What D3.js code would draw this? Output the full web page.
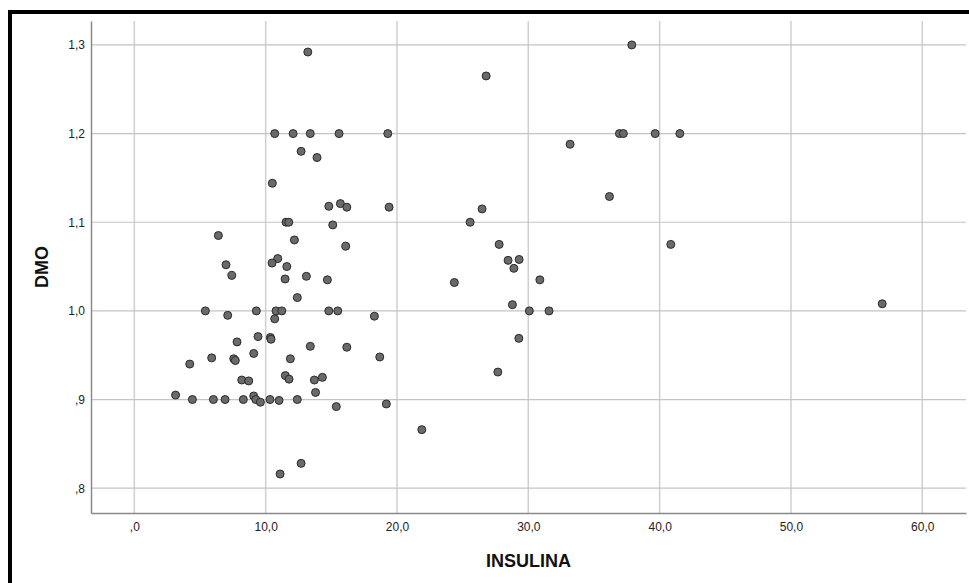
<!DOCTYPE html>
<html>
<head>
<meta charset="utf-8">
<script src="https://cdn.jsdelivr.net/npm/d3@7"></script>
<style>
  body { margin: 0; background: #fff; }
  svg { display: block; font-family: "Liberation Sans", Arial, sans-serif; }
  .tick-label { font-size: 12px; fill: #222; }
  .axis-title { font-size: 18px; font-weight: bold; fill: #111; }
</style>
</head>
<body>
<div id="chart"></div>
<script>
// INSULINA values (x)
var insulina = [
    13.21, 10.69, 12.09, 13.40, 12.70, 13.91, 10.51, 15.59, 19.30, 26.79,
    37.88, 33.18, 36.94, 37.24, 39.66, 41.54, 36.18, 26.48, 25.57, 40.85,
    27.78, 28.46, 29.30, 28.90, 24.37, 30.88, 28.79, 30.08, 31.58, 29.28,
    27.68, 21.89, 56.95, 14.81, 15.69, 16.18, 19.40, 11.55, 11.76, 15.11,
    6.40, 12.19, 16.10, 10.92, 10.49, 11.61, 6.98, 7.42, 11.48, 13.10,
    14.70, 12.41, 5.41, 7.11, 9.29, 10.79, 11.23, 10.69, 14.81, 15.49,
    18.28, 9.42, 10.36, 10.41, 7.82, 13.40, 16.18, 5.89, 7.57, 7.69,
    9.09, 11.88, 18.69, 4.22, 8.18, 8.71, 11.50, 11.78, 13.71, 14.32,
    13.80, 3.14, 4.42, 6.02, 6.91, 8.30, 9.09, 9.25, 9.60, 10.33,
    11.02, 12.41, 15.38, 19.19, 11.10, 12.70
];
// DMO values (y)
var dmo = [
    1.292, 1.200, 1.200, 1.200, 1.180, 1.173, 1.144, 1.200, 1.200, 1.265,
    1.300, 1.188, 1.200, 1.200, 1.200, 1.200, 1.129, 1.115, 1.100, 1.075,
    1.075, 1.057, 1.058, 1.048, 1.032, 1.035, 1.007, 1.000, 1.000, 0.969,
    0.931, 0.866, 1.008, 1.118, 1.121, 1.117, 1.117, 1.100, 1.100, 1.097,
    1.085, 1.080, 1.073, 1.059, 1.054, 1.050, 1.052, 1.040, 1.036, 1.039,
    1.035, 1.015, 1.000, 0.995, 1.000, 1.000, 1.000, 0.991, 1.000, 1.000,
    0.994, 0.971, 0.970, 0.968, 0.965, 0.960, 0.959, 0.947, 0.946, 0.944,
    0.952, 0.946, 0.948, 0.940, 0.922, 0.921, 0.927, 0.923, 0.922, 0.925,
    0.908, 0.905, 0.900, 0.900, 0.900, 0.900, 0.904, 0.900, 0.897, 0.900,
    0.899, 0.900, 0.892, 0.895, 0.816, 0.828
];
var xTicks = [0, 10, 20, 30, 40, 50, 60];
var xTickLabels = [",0", "10,0", "20,0", "30,0", "40,0", "50,0", "60,0"];
var yTicks = [0.8, 0.9, 1.0, 1.1, 1.2, 1.3];
var yTickLabels = [",8", ",9", "1,0", "1,1", "1,2", "1,3"];

var svgWidth = 969;
var svgHeight = 583;

var margin = { top: 21, right: 3, bottom: 70, left: 91 };
var chartWidth = svgWidth - margin.left - margin.right;
var chartHeight = svgHeight - margin.top - margin.bottom;

var svg = d3.select("#chart").append("svg")
    .attr("width", svgWidth)
    .attr("height", svgHeight);

// outer frame (top and left only are visible)
svg.append("path")
    .attr("d", `M10,${svgHeight} L10,12 L${svgWidth},12`)
    .attr("fill", "none")
    .attr("stroke", "#000")
    .attr("stroke-width", 4);

var chartGroup = svg.append("g")
    .attr("transform", `translate(${margin.left}, ${margin.top})`);

var xScale = d3.scaleLinear()
    .domain([-3.3, 63.33])
    .range([0, chartWidth]);

var yScale = d3.scaleLinear()
    .domain([0.772, 1.327])
    .range([chartHeight, 0]);

// grid lines
chartGroup.append("g").selectAll("line")
    .data(xTicks)
    .enter()
    .append("line")
    .attr("x1", d => xScale(d))
    .attr("x2", d => xScale(d))
    .attr("y1", 0)
    .attr("y2", chartHeight)
    .attr("stroke", "#cfcfcf")
    .attr("stroke-width", 1.5);

chartGroup.append("g").selectAll("line")
    .data(yTicks)
    .enter()
    .append("line")
    .attr("x1", 0)
    .attr("x2", chartWidth)
    .attr("y1", d => yScale(d))
    .attr("y2", d => yScale(d))
    .attr("stroke", "#c4c4c4")
    .attr("stroke-width", 1.2);

// axes lines
var xAxis = d3.axisBottom(xScale)
    .tickValues(xTicks)
    .tickSize(0)
    .tickPadding(9)
    .tickFormat((d, i) => xTickLabels[i]);

var yAxis = d3.axisLeft(yScale)
    .tickValues(yTicks)
    .tickSize(0)
    .tickPadding(6)
    .tickFormat((d, i) => yTickLabels[i]);

var gx = chartGroup.append("g")
    .attr("transform", `translate(0, ${chartHeight})`)
    .call(xAxis);
var gy = chartGroup.append("g").call(yAxis);

[gx, gy].forEach(function(g) {
    g.select(".domain").attr("stroke", "#8a8a8a").attr("stroke-width", 1.5);
    g.selectAll("text")
        .attr("class", "tick-label")
        .attr("font-family", null)
        .attr("font-size", null)
        .attr("fill", null);
});

// points
chartGroup.append("g").selectAll("circle")
    .data(insulina)
    .enter()
    .append("circle")
    .attr("cx", d => xScale(d))
    .attr("cy", (d, i) => yScale(dmo[i]))
    .attr("r", 4)
    .attr("fill", "#6a6a6a")
    .attr("stroke", "#2a2a2a")
    .attr("stroke-width", 1);

// axis titles
chartGroup.append("text")
    .attr("class", "axis-title")
    .attr("x", chartWidth / 2)
    .attr("y", chartHeight + 54)
    .attr("text-anchor", "middle")
    .text("INSULINA");

chartGroup.append("text")
    .attr("class", "axis-title")
    .attr("transform", `translate(${42 - margin.left}, ${chartHeight / 2}) rotate(-90)`)
    .attr("text-anchor", "middle")
    .attr("dy", "0.35em")
    .text("DMO");
</script>
</body>
</html>
